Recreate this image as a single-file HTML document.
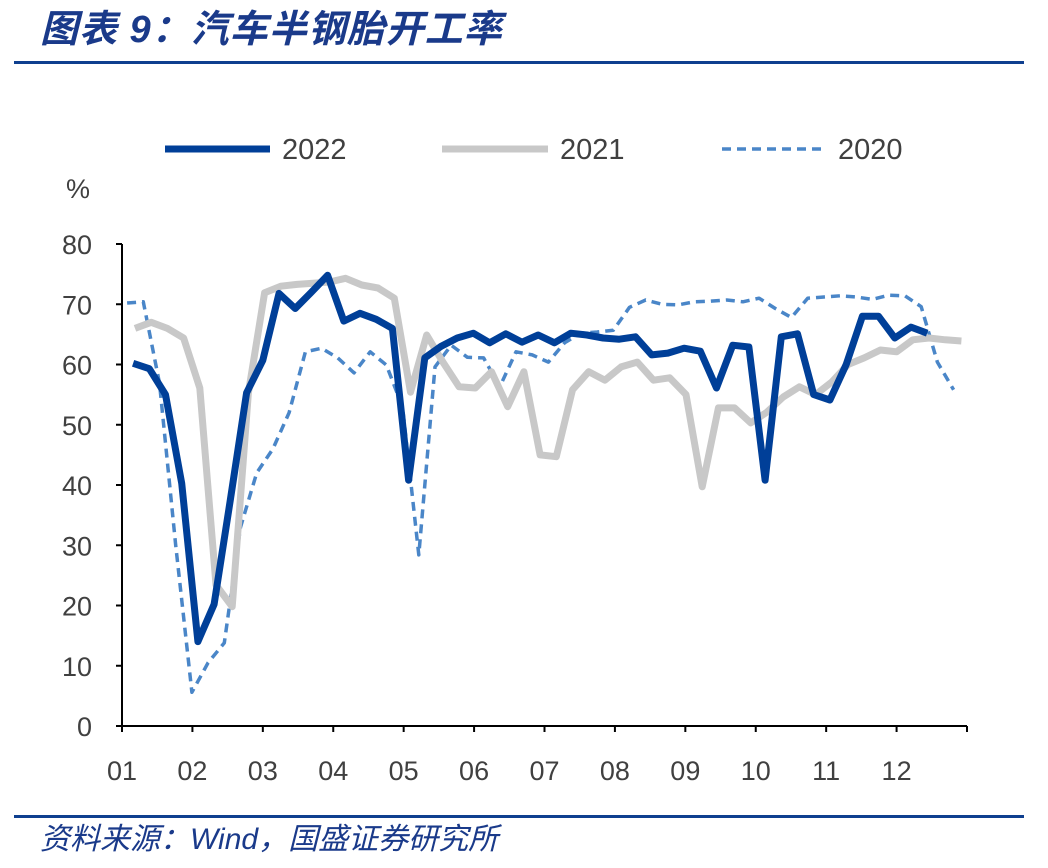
<!DOCTYPE html>
<html><head><meta charset="utf-8"><style>
body{margin:0;background:#fff;width:1048px;height:863px;overflow:hidden;font-family:"Liberation Sans","Noto Sans CJK SC",sans-serif}
</style></head><body>
<svg width="1048" height="863" xmlns="http://www.w3.org/2000/svg">
<text x="40" y="42" font-size="38" font-weight="bold" font-style="italic" fill="#1a3a8a" letter-spacing="1" font-family="Liberation Sans,Noto Sans CJK SC,sans-serif">图表 9：汽车半钢胎开工率</text>
<rect x="14" y="61" width="1010" height="3" fill="#0f3f8f"/>
<rect x="14" y="815" width="1010" height="3" fill="#0f3f8f"/>
<text x="40" y="849" font-size="30" font-style="italic" fill="#1a3a8a" font-family="Liberation Sans,Noto Sans CJK SC,sans-serif">资料来源：Wind，国盛证券研究所</text>
<g id="legend">
<line x1="165" y1="149" x2="270" y2="149" stroke="#003f98" stroke-width="7"/>
<text x="282" y="159" font-size="29" fill="#404040">2022</text>
<line x1="442" y1="149" x2="548" y2="149" stroke="#c8c8c8" stroke-width="7"/>
<text x="560" y="159" font-size="29" fill="#404040">2021</text>
<line x1="722" y1="149" x2="826" y2="149" stroke="#4a86c8" stroke-width="3.5" stroke-dasharray="9,6"/>
<text x="838" y="159" font-size="29" fill="#404040">2020</text>
</g>
<text x="66" y="198" font-size="27" fill="#404040">%</text>
<g id="axes"></g>
<g id="series"></g>
</svg>
<script>
const yTicks=[0,10,20,30,40,50,60,70,80];
const monthLabels=["01","02","03","04","05","06","07","08","09","10","11","12"];
const v2022=[60.2,59.3,55,40.3,14,20.2,37.5,55.3,60.7,71.8,69.3,72,74.8,67.2,68.5,67.5,66,40.8,61.1,63,64.4,65.2,63.6,65.1,63.7,64.9,63.6,65.2,64.9,64.4,64.2,64.6,61.6,61.9,62.7,62.2,56.1,63.2,62.9,40.8,64.6,65.1,55,54.1,60,68,68,64.4,66.2,65.2];
const v2021=[66,67,66,64.4,56.1,23.4,19.8,55.3,71.9,73,73.3,73.5,73.7,74.3,73.2,72.7,71,55.4,64.9,60.4,56.3,56.1,58.8,53,58.8,45,44.7,55.8,58.8,57.4,59.6,60.4,57.4,57.8,55,39.7,52.8,52.8,50.3,52.1,54.6,56.3,55,57.1,60,61.1,62.4,62.1,64.1,64.4,64.1,63.9];
const v2020=[70.2,70.4,56.9,30,5.6,10.5,13.8,33,42,46,52,62.1,62.7,61.1,58.6,62.1,59.9,52.9,28.4,59.6,63.2,61.2,61.1,56.3,62.1,61.6,60.4,63.6,65.2,65.4,65.7,69.5,70.7,70,69.9,70.4,70.5,70.7,70.4,71,69.3,67.8,71,71.2,71.4,71.2,70.8,71.5,71.4,69.6,60.4,55.8];
const startDay={y2022:4.8,y2021:5.6,y2020:2.2};
const X0=122,X1=967,Y0=726,Y80=244;
const xs=d=>X0+d/365*(X1-X0);
const ys=v=>Y0-v/80*(Y0-Y80);
const NS="http://www.w3.org/2000/svg";
const ax=document.getElementById('axes');
function mk(tag,attrs,parent){const e=document.createElementNS(NS,tag);for(const k in attrs)e.setAttribute(k,attrs[k]);parent.appendChild(e);return e;}
const yl=mk('line',{x1:X0,y1:Y80,x2:X0,y2:Y0,stroke:'#000','stroke-width':2},ax);


const xl=mk('line',{x1:X0,y1:Y0,x2:X1,y2:Y0,stroke:'#000','stroke-width':2},ax);


yTicks.forEach(t=>{
 const tk=mk('line',{x1:X0-6,y1:ys(t),x2:X0,y2:ys(t),stroke:'#000','stroke-width':2},ax);
 
 
 const tx=mk('text',{x:X0-30,y:ys(t)+10,'font-size':27,fill:'#404040','text-anchor':'end'},ax);
 tx.textContent=t;
 
 
});
monthLabels.forEach((m,i)=>{
 const x=X0+i*(X1-X0)/12;
 const tk=mk('line',{x1:x,y1:Y0,x2:x,y2:Y0+6,stroke:'#000','stroke-width':2},ax);
 
 
 const tx=mk('text',{x:x,y:780,'font-size':27,fill:'#404040','text-anchor':'middle'},ax);
 tx.textContent=m;
 
 
});
const endTk=mk('line',{x1:X1,y1:Y0,x2:X1,y2:Y0+6,stroke:'#000','stroke-width':2},ax);


const sg=document.getElementById('series');
function drawLine(vals,start,attrs,name){
 const pts=vals.map((v,i)=>xs(start+7*i).toFixed(1)+','+ys(v).toFixed(1)).join(' ');
 const p=mk('polyline',Object.assign({points:pts,fill:'none','stroke-linejoin':'round'},attrs),sg);
 
 
}
drawLine(v2020,startDay.y2020,{stroke:'#4a86c8','stroke-width':3.5,'stroke-dasharray':'9,6'},'series-2020');
drawLine(v2021,startDay.y2021,{stroke:'#c8c8c8','stroke-width':7},'series-2021');
drawLine(v2022,startDay.y2022,{stroke:'#003f98','stroke-width':7},'series-2022');
</script>
</body></html>
